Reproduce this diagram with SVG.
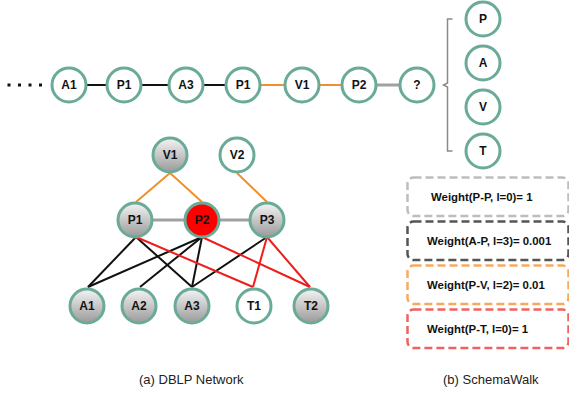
<svg xmlns="http://www.w3.org/2000/svg" width="569" height="396" viewBox="0 0 569 396">
  <style>
    .node { stroke: #6aaa99; stroke-width: 3; }
    .plain { fill: #ffffff; }
    .shade { fill: url(#shade); }
    .hot { fill: #ff0000; }
    .lbl { font-family: "Liberation Sans", Arial, sans-serif; font-weight: bold; font-size: 12px; fill: #111; text-anchor: middle; dominant-baseline: central; }
    .e-black { stroke: #111; stroke-width: 2; fill: none; }
    .e-orange { stroke: #f0902a; stroke-width: 2; fill: none; }
    .e-gray { stroke: #a0a0a0; stroke-width: 3; fill: none; }
    .e-red { stroke: #ee1c1c; stroke-width: 2; fill: none; }
    .box { fill: none; stroke-width: 2.5; stroke-dasharray: 8 4; }
    .wt { font-family: "Liberation Sans", Arial, sans-serif; font-weight: bold; font-size: 11.4px; fill: #111; }
    .cap { font-family: "Liberation Sans", Arial, sans-serif; font-size: 13px; fill: #222; }
  </style>
  <defs>
    <linearGradient id="shade" x1="0" y1="0" x2="0" y2="1">
      <stop offset="0" stop-color="#f4f4f4"/>
      <stop offset="1" stop-color="#9a9a9a"/>
    </linearGradient>
  </defs>

  <!-- connectors -->
  <g id="connectors">
    <!-- walk sequence -->
    <line class="e-black" x1="86" y1="85" x2="107" y2="85"/>
    <line class="e-black" x1="141" y1="85" x2="169" y2="85"/>
    <line class="e-black" x1="203" y1="85" x2="226" y2="85"/>
    <line class="e-orange" x1="260" y1="85" x2="285" y2="85"/>
    <line class="e-orange" x1="319" y1="85" x2="342" y2="85"/>
    <line class="e-gray" x1="376" y1="85" x2="400" y2="85"/>
    <!-- candidate brace -->
    <path d="M452.5 19 H447.5 V83 L443.5 85 L447.5 87 V151 H452.5" fill="none" stroke="#8a8a8a" stroke-width="1.5"/>
    <!-- network: venue to paper -->
    <line class="e-orange" x1="170" y1="173" x2="136" y2="202"/>
    <line class="e-orange" x1="170" y1="173" x2="202" y2="202"/>
    <line class="e-orange" x1="237" y1="173" x2="267" y2="202"/>
    <!-- network: paper to paper -->
    <line class="e-gray" x1="153" y1="220" x2="184" y2="220"/>
    <line class="e-gray" x1="220" y1="220" x2="249" y2="220"/>
    <!-- network: paper to author -->
    <line class="e-black" x1="136" y1="237" x2="88" y2="287"/>
    <line class="e-black" x1="136" y1="237" x2="192" y2="287"/>
    <line class="e-black" x1="202" y1="237" x2="88" y2="287"/>
    <line class="e-black" x1="202" y1="237" x2="140" y2="287"/>
    <line class="e-black" x1="202" y1="237" x2="192" y2="287"/>
    <line class="e-black" x1="267" y1="237" x2="192" y2="287"/>
    <!-- network: paper to term -->
    <line class="e-red" x1="136" y1="237" x2="253" y2="287"/>
    <line class="e-red" x1="202" y1="237" x2="310" y2="287"/>
    <line class="e-red" x1="267" y1="237" x2="253" y2="287"/>
    <line class="e-red" x1="267" y1="237" x2="310" y2="287"/>
  </g>

  <!-- leading dots of the walk -->
  <g id="dots" fill="#111">
    <rect x="7.5" y="83.5" width="3" height="3"/>
    <rect x="18" y="83.5" width="3" height="3"/>
    <rect x="28.5" y="83.5" width="3" height="3"/>
    <rect x="39" y="83.5" width="3" height="3"/>
  </g>

  <!-- walk sequence nodes -->
  <g id="w-a1"><circle class="node plain" cx="69" cy="85" r="17"/><text class="lbl" x="69" y="85">A1</text></g>
  <g id="w-p1"><circle class="node plain" cx="124" cy="85" r="17"/><text class="lbl" x="124" y="85">P1</text></g>
  <g id="w-a3"><circle class="node plain" cx="186" cy="85" r="17"/><text class="lbl" x="186" y="85">A3</text></g>
  <g id="w-p1b"><circle class="node plain" cx="243" cy="85" r="17"/><text class="lbl" x="243" y="85">P1</text></g>
  <g id="w-v1"><circle class="node plain" cx="302" cy="85" r="17"/><text class="lbl" x="302" y="85">V1</text></g>
  <g id="w-p2"><circle class="node plain" cx="359" cy="85" r="17"/><text class="lbl" x="359" y="85">P2</text></g>
  <g id="w-next"><circle class="node plain" cx="417" cy="85" r="17"/><text class="lbl" x="417" y="85">?</text></g>

  <!-- candidate types -->
  <g id="c-p"><circle class="node plain" cx="483" cy="19" r="17"/><text class="lbl" x="483" y="19">P</text></g>
  <g id="c-a"><circle class="node plain" cx="483" cy="63" r="17"/><text class="lbl" x="483" y="63">A</text></g>
  <g id="c-v"><circle class="node plain" cx="483" cy="107" r="17"/><text class="lbl" x="483" y="107">V</text></g>
  <g id="c-t"><circle class="node plain" cx="483" cy="151" r="17"/><text class="lbl" x="483" y="151">T</text></g>

  <!-- DBLP network nodes -->
  <g id="n-v1"><circle class="node shade" cx="170" cy="155" r="17"/><text class="lbl" x="170" y="155">V1</text></g>
  <g id="n-v2"><circle class="node plain" cx="237" cy="155" r="17"/><text class="lbl" x="237" y="155">V2</text></g>
  <g id="n-p1"><circle class="node shade" cx="135" cy="220" r="17"/><text class="lbl" x="135" y="220">P1</text></g>
  <g id="n-p2"><circle class="node hot" cx="202" cy="220" r="17"/><text class="lbl" x="202" y="220">P2</text></g>
  <g id="n-p3"><circle class="node shade" cx="267" cy="220" r="17"/><text class="lbl" x="267" y="220">P3</text></g>
  <g id="n-a1"><circle class="node shade" cx="87" cy="306" r="17"/><text class="lbl" x="87" y="306">A1</text></g>
  <g id="n-a2"><circle class="node shade" cx="139" cy="306" r="17"/><text class="lbl" x="139" y="306">A2</text></g>
  <g id="n-a3"><circle class="node shade" cx="192" cy="306" r="17"/><text class="lbl" x="192" y="306">A3</text></g>
  <g id="n-t1"><circle class="node plain" cx="254" cy="306" r="17"/><text class="lbl" x="254" y="306">T1</text></g>
  <g id="n-t2"><circle class="node shade" cx="311" cy="306" r="17"/><text class="lbl" x="311" y="306">T2</text></g>

  <!-- schema weights -->
  <g id="w-pp"><rect class="box" x="407.5" y="177.5" width="161" height="38.5" rx="6" stroke="#bdbdbd"/><text class="wt" x="431" y="201">Weight(P-P, l=0)= 1</text></g>
  <g id="w-ap"><rect class="box" x="407.5" y="221.5" width="161" height="38.5" rx="6" stroke="#555555"/><text class="wt" x="427" y="245">Weight(A-P, l=3)= 0.001</text></g>
  <g id="w-pv"><rect class="box" x="407.5" y="265.5" width="161" height="38.5" rx="6" stroke="#f7aa5c"/><text class="wt" x="427" y="289">Weight(P-V, l=2)= 0.01</text></g>
  <g id="w-pt"><rect class="box" x="407.5" y="309.5" width="161" height="38.5" rx="6" stroke="#f06262"/><text class="wt" x="427" y="333">Weight(P-T, l=0)= 1</text></g>

  <!-- captions -->
  <text class="cap" x="139" y="384">(a) DBLP Network</text>
  <text class="cap" x="443" y="384">(b) SchemaWalk</text>
</svg>
